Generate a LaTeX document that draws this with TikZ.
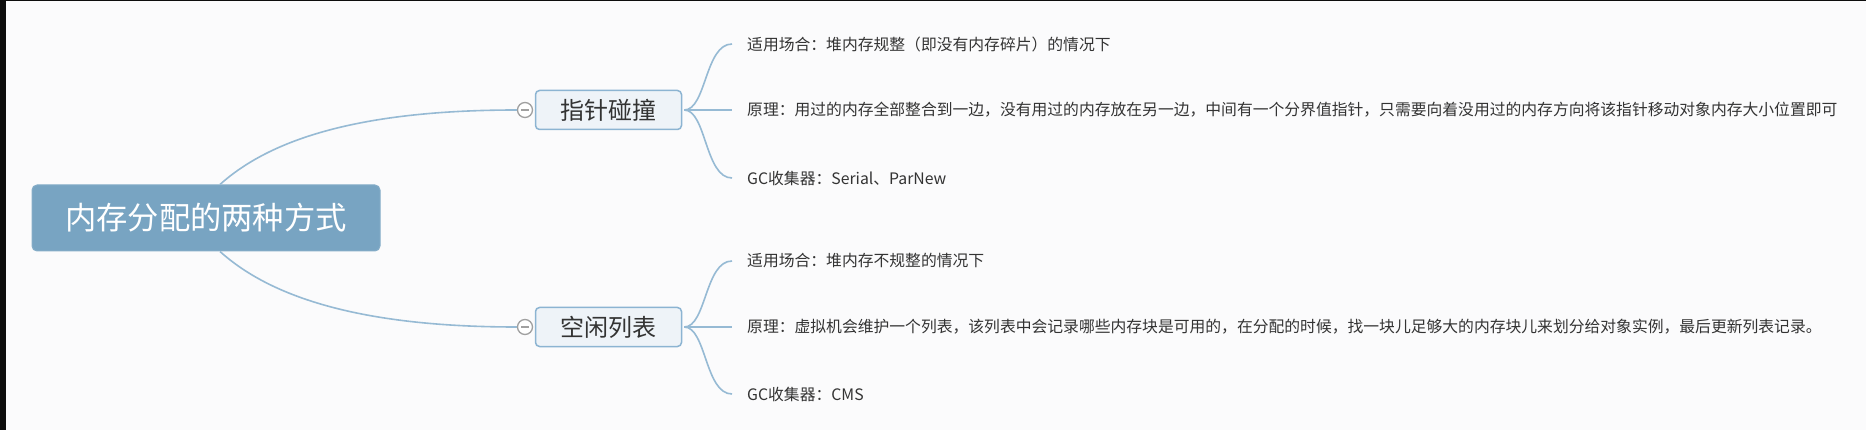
\documentclass[tikz,border=0pt]{standalone}
\usepackage{fontspec}
\newfontfamily\cjk{Noto Sans CJK SC}
\definecolor{bgc}{RGB}{251,251,252}
\definecolor{rootfill}{RGB}{120,164,194}
\definecolor{brfill}{RGB}{238,243,248}
\definecolor{brdraw}{RGB}{140,180,210}
\definecolor{linec}{RGB}{150,186,212}
\definecolor{txt}{RGB}{51,51,51}
\definecolor{circc}{RGB}{160,160,160}
\tikzset{
  rootbox/.style={draw=rootfill!90!white, fill=rootfill, rounded corners=5pt, line width=1pt,
    minimum width=348pt, minimum height=66pt, inner sep=0pt, text=white,
    font=\cjk\fontsize{31.3}{35}\selectfont},
  brbox/.style={draw=brdraw, fill=brfill, rounded corners=4pt, line width=1.5pt,
    minimum width=146pt, minimum height=39pt, inner sep=0pt, text=txt,
    font=\cjk\fontsize{24}{28}\selectfont},
  leaf/.style={anchor=west, inner sep=0pt, text=txt, font=\cjk\fontsize{15.8}{19}\selectfont},
  conn/.style={draw=linec, line width=1.6pt},
  collapse/.style={circle, draw=circc, fill=white, line width=1.3pt, minimum size=15pt, inner sep=0pt},
}
\begin{document}
\begin{tikzpicture}[x=1pt,y=-1pt]
\useasboundingbox (0,0) rectangle (1866,430);
\fill[bgc] (0,0) rectangle (1866,430);
\fill[black!95] (0,0) rectangle (6,430);
\fill[black!95] (0,0) rectangle (1866,1.5);

\node[rootbox] (root) at (206,218) {内存分配的两种方式};

\node[brbox] (b1) at (608.5,110) {指针碰撞};
\node[brbox] (b2) at (608.5,327) {空闲列表};
\node[collapse] (c1) at (525,110) {};
\node[collapse] (c2) at (525,327) {};
\draw[circc, line width=1.3pt] ([xshift=-4pt]c1.center) -- ([xshift=4pt]c1.center);
\draw[circc, line width=1.3pt] ([xshift=-4pt]c2.center) -- ([xshift=4pt]c2.center);

\node[leaf] (t11) at (747,44) {适用场合：堆内存规整（即没有内存碎片）的情况下};
\node[leaf] (t12) at (747,110) {原理：用过的内存全部整合到一边，没有用过的内存放在另一边，中间有一个分界值指针，只需要向着没用过的内存方向将该指针移动对象内存大小位置即可};
\node[leaf] (t13) at (747,178) {GC收集器：Serial、ParNew};
\node[leaf] (t21) at (747,261) {适用场合：堆内存不规整的情况下};
\node[leaf] (t22) at (747,327) {原理：虚拟机会维护一个列表，该列表中会记录哪些内存块是可用的，在分配的时候，找一块儿足够大的内存块儿来划分给对象实例，最后更新列表记录。};
\node[leaf] (t23) at (747,394) {GC收集器：CMS};

% root connectors
\draw[conn] ([xshift=14pt]root.north) .. controls +(50,-45) and +(-158,0) .. (c1.west);
\draw[conn] ([xshift=14pt]root.south) .. controls +(50,45) and +(-158,0) .. (c2.west);

% child connectors
\foreach \b/\t in {b1/t11,b1/t12,b1/t13,b2/t21,b2/t22,b2/t23}{
  \draw[conn] ([xshift=2pt]\b.east) .. controls +(22,0) and +(-27,0) .. ([xshift=-15pt]\t.west);
}
\end{tikzpicture}
\end{document}
